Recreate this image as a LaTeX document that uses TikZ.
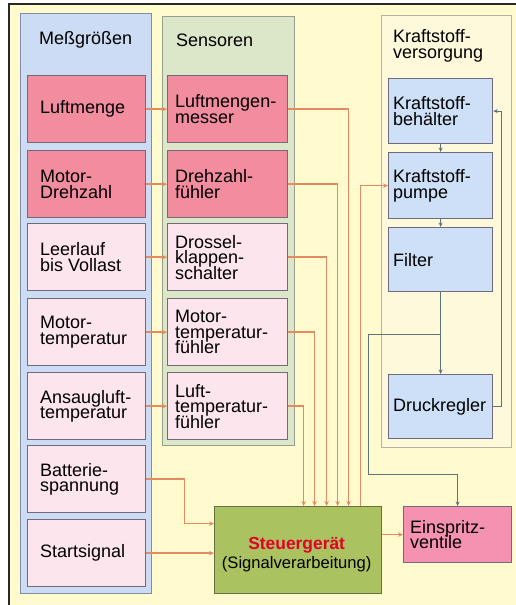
\documentclass[tikz,border=0pt]{standalone}
\usepackage{fontspec}
\setmainfont{Liberation Sans}
\usetikzlibrary{arrows.meta}

\definecolor{bgyellow}{RGB}{255,251,206}
\definecolor{frameline}{RGB}{40,40,40}
\definecolor{mcol}{RGB}{204,220,244}
\definecolor{mcolline}{RGB}{128,140,170}
\definecolor{scol}{RGB}{220,230,200}
\definecolor{scolline}{RGB}{150,160,140}
\definecolor{kcol}{RGB}{255,249,220}
\definecolor{kcolline}{RGB}{180,180,160}
\definecolor{pinkdark}{RGB}{242,141,160}
\definecolor{pinklight}{RGB}{252,229,236}
\definecolor{fuelblue}{RGB}{205,224,248}
\definecolor{sgreen}{RGB}{170,194,96}
\definecolor{sgline}{RGB}{100,112,70}
\definecolor{einpink}{RGB}{245,146,178}
\definecolor{boxline}{RGB}{115,105,125}
\definecolor{sigline}{RGB}{228,138,96}
\definecolor{fuelline}{RGB}{95,116,120}
\definecolor{sgred}{RGB}{228,0,40}

% box with a left-aligned, vertically centred text label
\newcommand{\rowbox}[8]{%
  \node[box,#2,minimum width=#5pt,minimum height=#6pt] (#1) at (#3,#4) {};
  \node[txt] at ([xshift=#7pt]#1.west) {#8};}

\begin{document}
\setlength{\lineskiplimit}{-30pt}
\begin{tikzpicture}[x=1pt,y=-1pt,
  colbox/.style={anchor=north west,line width=1.4pt,inner sep=0pt},
  box/.style={anchor=north west,draw=boxline,line width=1.3pt,inner sep=0pt},
  txt/.style={anchor=west,align=left,inner sep=0pt,font=\fontsize{18}{15.5}\selectfont},
  sig/.style={draw=sigline,line width=1.6pt,-{Stealth[length=5pt,width=4.5pt]}},
  fuel/.style={draw=fuelline,line width=1.1pt,-{Stealth[length=4.5pt,width=4pt]}}]
\useasboundingbox (0,0) rectangle (516,605);
\fill[white] (0,0) rectangle (516,605);
\fill[bgyellow] (9,4) rectangle (516,605);
\draw[frameline,line width=1.2pt] (9,605) -- (9,4) -- (516,4);

% column panels
\node[colbox,fill=mcol,draw=mcolline,minimum width=131pt,minimum height=580pt] (colM) at (20,13) {};
\node[colbox,fill=scol,draw=scolline,minimum width=132pt,minimum height=429pt] (colS) at (162,16) {};
\node[colbox,fill=kcol,draw=kcolline,minimum width=130pt,minimum height=432pt] (colK) at (381,15) {};
\node[txt] (hM) at (39,40) {Meßgrößen};
\node[txt] (hS) at (176,40) {Sensoren};
\node[txt] (hK) at (393,46) {Kraftstoff-\\versorgung};

% measured quantities
\rowbox{mLuft}{fill=pinkdark}{27}{75}{118}{67}{13}{Luftmenge}
\rowbox{mDreh}{fill=pinkdark}{27}{150}{118}{67}{13}{Motor-\\Drehzahl}
\rowbox{mLeer}{fill=pinklight}{27}{223}{118}{67}{13}{Leerlauf\\bis Vollast}
\rowbox{mTemp}{fill=pinklight}{27}{298}{118}{67}{13}{Motor-\\temperatur}
\rowbox{mAns}{fill=pinklight}{27}{372}{118}{67}{13}{Ansaugluft-\\temperatur}
\rowbox{mBat}{fill=pinklight}{27}{445}{118}{67}{13}{Batterie-\\spannung}
\rowbox{mStart}{fill=pinklight}{27}{519}{118}{67}{13}{Startsignal}

% sensors
\rowbox{sLuft}{fill=pinkdark}{167}{75}{120}{67}{8}{Luftmengen-\\messer}
\rowbox{sDreh}{fill=pinkdark}{167}{150}{120}{67}{8}{Drehzahl-\\fühler}
\rowbox{sDros}{fill=pinklight}{167}{223}{120}{67}{8}{Drossel-\\klappen-\\schalter}
\rowbox{sMot}{fill=pinklight}{167}{298}{120}{67}{8}{Motor-\\temperatur-\\fühler}
\rowbox{sLuftT}{fill=pinklight}{167}{372}{120}{67}{8}{Luft-\\temperatur-\\fühler}

% fuel supply
\rowbox{fTank}{fill=fuelblue}{388}{78}{104}{65}{5}{Kraftstoff-\\behälter}
\rowbox{fPump}{fill=fuelblue}{388}{152}{104}{66}{5}{Kraftstoff-\\pumpe}
\rowbox{fFilt}{fill=fuelblue}{388}{227}{104}{64}{5}{Filter}
\rowbox{fReg}{fill=fuelblue}{388}{374}{104}{64}{5}{Druckregler}

% control unit and injectors
\node[box,fill=sgreen,draw=sgline,minimum width=167pt,minimum height=87pt] (sg) at (214,506) {};
\node[align=center,inner sep=0pt,font=\fontsize{16.6}{19}\selectfont] (sgtext)
  at ([xshift=-1.5pt,yshift=-4.5pt]sg.center)
  {{\fontsize{17.4}{19}\selectfont\bfseries\color{sgred}Steuergerät}\\(Signalverarbeitung)};
\rowbox{ein}{fill=einpink}{403}{506}{108}{56}{7}{Einspritz-\\ventile}

% quantity -> sensor
\draw[sig] (mLuft.east) -- (sLuft.west);
\draw[sig] (mDreh.east) -- (sDreh.west);
\draw[sig] (mLeer.east) -- (sDros.west);
\draw[sig] (mTemp.east) -- (sMot.west);
\draw[sig] (mAns.east) -- (sLuftT.west);

% sensor -> control unit
\draw[sig] (sLuftT.east) -| ([xshift=5.5pt]sg.north);
\draw[sig] (sMot.east) -| ([xshift=16.5pt]sg.north);
\draw[sig] (sDros.east) -| ([xshift=28.5pt]sg.north);
\draw[sig] (sDreh.east) -| ([xshift=39.5pt]sg.north);
\draw[sig] (sLuft.east) -| ([xshift=50.5pt]sg.north);

% direct inputs
\draw[sig] (mBat.east) -- ++(38,0) |- ([yshift=26.5pt]sg.west);
\draw[sig] (mStart.east) -- (mStart.east -| sg.west);

% control unit outputs
\draw[sig] ([xshift=62.5pt]sg.north) |- (fPump.west);
\draw[sig] (ein.west -| sg.east) -- (ein.west);

% fuel circuit
\draw[fuel] (fTank) -- (fPump);
\draw[fuel] (fPump) -- (fFilt);
\draw[fuel] (fFilt) -- (fReg);
\draw[fuel] ([yshift=-42pt]fFilt.south) -- ++(-72,0) -- ++(0,140) -| (ein.north);
\draw[fuel] (fReg.east) -- ++(8,0) |- (fTank.east);
\end{tikzpicture}
\end{document}
